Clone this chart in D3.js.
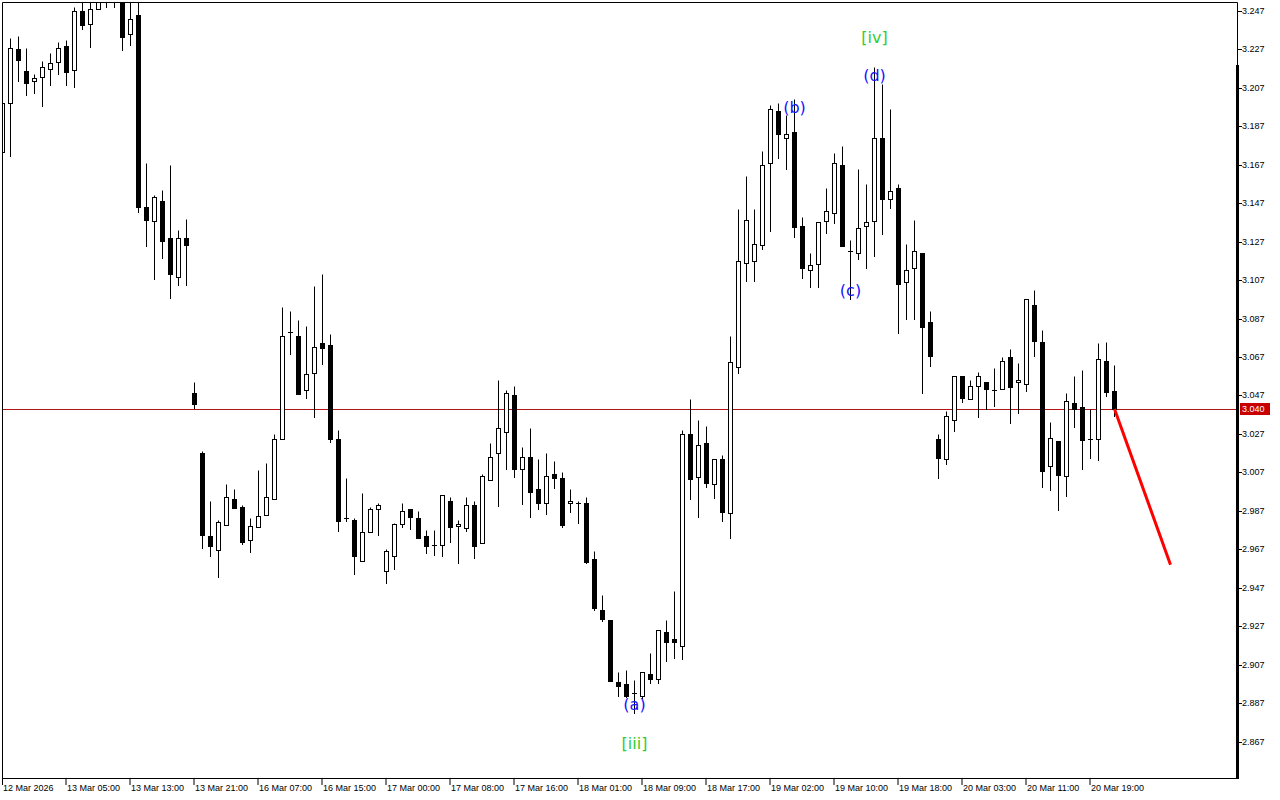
<!DOCTYPE html>
<html>
<head>
<meta charset="utf-8">
<script src="https://cdnjs.cloudflare.com/ajax/libs/d3/7.8.5/d3.min.js"></script>
<style>
  body { margin: 0; background: #fff; }
  svg { display: block; }
  .axis text { font-family: "Liberation Sans", Arial, sans-serif; font-size: 9px; fill: #000; }
</style>
</head>
<body>
<div class="chart"></div>
<script>
// H1 bars, oldest first (bar 0 = 12 Mar 2026, partly cut at the left edge)
var opens = [3.1736,3.1991,3.2272,3.2158,3.2106,3.2126,3.2168,3.2204,3.2288,3.2163,
  3.2470,3.2402,3.2480,3.2657,3.2568,3.2579,3.2350,3.2449,3.1450,3.1378,
  3.1482,3.1289,3.1086,3.1289,3.0483,3.0171,2.9740,2.9667,2.9797,2.9932,
  2.9890,2.9719,2.9786,2.9849,2.9932,3.0244,3.0800,3.0780,3.0499,3.0587,
  3.0743,3.0733,3.0244,2.9833,2.9823,2.9610,2.9760,2.9880,2.9558,2.9636,
  2.9802,2.9880,2.9833,2.9740,2.9693,2.9693,2.9922,2.9792,2.9781,2.9901,
  2.9703,3.0031,3.0171,3.0280,3.0473,3.0088,3.0150,2.9984,2.9911,3.0062,
  3.0041,2.9911,2.9911,2.9911,2.9620,2.9355,2.9303,2.8980,2.8970,2.8923,
  2.8908,2.9022,2.8996,2.9240,2.9204,2.9168,3.0270,3.0046,3.0223,3.0010,
  3.0140,2.9859,3.0618,3.1159,3.1170,3.1253,3.1679,3.1950,3.1809,3.1840,
  3.1352,3.1123,3.1154,3.1378,3.1419,3.1669,3.1222,3.1211,3.1352,3.1378,
  3.1809,3.1492,3.1549,3.1060,3.1133,3.1211,3.0852,3.0244,3.0140,3.0343,
  3.0572,3.0452,3.0520,3.0540,3.0499,3.0504,3.0670,3.0540,3.0530,3.0941,
  3.0748,3.0104,3.0234,3.0052,3.0431,3.0410,3.0244,3.0244,3.0650,3.0494];
var highs = [3.2028,3.2329,3.2340,3.2277,3.2142,3.2210,3.2251,3.2308,3.2319,3.2490,
  3.2542,3.2553,3.2631,3.2683,3.2672,3.2605,3.2553,3.2542,3.1679,3.1513,
  3.1539,3.1669,3.1331,3.1388,3.0540,3.0182,2.9922,2.9823,3.0010,2.9984,
  2.9901,2.9833,3.0083,3.0119,3.0270,3.0930,3.0910,3.0863,3.0832,3.1040,
  3.1102,3.0790,3.0291,3.0041,2.9833,2.9963,2.9890,2.9911,2.9672,2.9807,
  2.9911,2.9880,2.9870,2.9771,2.9771,2.9953,2.9942,2.9823,2.9942,2.9922,
  3.0062,3.0223,3.0551,3.0499,3.0520,3.0202,3.0301,3.0140,3.0171,3.0130,
  3.0072,2.9984,2.9922,2.9942,2.9662,2.9433,2.9303,2.9032,2.9043,2.8991,
  2.9032,2.9131,2.9251,2.9303,2.9454,3.0291,3.0452,3.0343,3.0312,3.0140,
  3.0161,3.0780,3.1440,3.1612,3.1440,3.1742,3.1981,3.1991,3.1929,3.2012,
  3.1398,3.1211,3.1372,3.1549,3.1731,3.1768,3.1279,3.1648,3.1570,3.2178,
  3.2090,3.1960,3.1570,3.1258,3.1383,3.1211,3.0910,3.0270,3.0390,3.0572,
  3.0572,3.0551,3.0592,3.0540,3.0613,3.0670,3.0712,3.0639,3.0972,3.1019,
  3.0811,3.0332,3.0234,3.0483,3.0572,3.0603,3.0400,3.0743,3.0748,3.0629];
var lows = [3.1705,3.1716,3.2106,3.2033,3.2043,3.1976,3.2085,3.2142,3.2085,3.2074,
  3.2376,3.2282,3.2480,3.2490,3.2490,3.2267,3.2293,3.1424,3.1248,3.1076,
  3.1185,3.0977,3.1045,3.1045,3.0405,2.9677,2.9636,2.9526,2.9797,2.9885,
  2.9698,2.9656,2.9786,2.9849,2.9932,3.0244,3.0686,3.0478,3.0457,3.0358,
  3.0634,3.0228,2.9766,2.9818,2.9542,2.9610,2.9760,2.9745,2.9495,2.9568,
  2.9786,2.9776,2.9729,2.9651,2.9641,2.9636,2.9708,2.9599,2.9766,2.9625,
  2.9703,3.0031,2.9896,3.0088,3.0046,2.9906,2.9838,2.9880,2.9854,2.9989,
  2.9786,2.9864,2.9807,2.9599,2.9355,2.9298,2.8986,2.8908,2.8902,2.8819,
  2.8897,2.8975,2.8975,2.9090,2.9105,2.9100,2.9932,2.9838,2.9994,2.9937,
  2.9818,2.9729,3.0587,3.1066,3.1066,3.1232,3.1326,3.1705,3.1648,3.1294,
  3.1081,3.1034,3.1034,3.1315,3.1367,3.1248,3.0972,3.1180,3.1133,3.1196,
  3.1310,3.1445,3.0795,3.0868,3.0868,3.0483,3.0624,3.0041,3.0114,3.0286,
  3.0436,3.0452,3.0358,3.0400,3.0416,3.0504,3.0327,3.0379,3.0494,3.0676,
  2.9994,2.9979,2.9875,2.9948,3.0306,3.0088,3.0145,3.0135,3.0468,3.0364];
var closes = [3.1991,3.2277,3.2215,3.2095,3.2121,3.2178,3.2199,3.2277,3.2152,3.2470,
  3.2397,3.2480,3.2605,3.2579,3.2631,3.2334,3.2428,3.1450,3.1383,3.1502,
  3.1274,3.1102,3.1289,3.1253,3.0426,2.9745,2.9688,2.9812,2.9942,2.9885,
  2.9708,2.9792,2.9844,2.9942,3.0244,3.0780,3.0800,3.0478,3.0582,3.0722,
  3.0717,3.0244,2.9818,2.9833,2.9636,2.9760,2.9880,2.9901,2.9662,2.9802,
  2.9870,2.9838,2.9729,2.9688,2.9693,2.9953,2.9786,2.9802,2.9901,2.9688,
  3.0052,3.0150,3.0301,3.0483,3.0088,3.0150,2.9968,2.9911,3.0052,3.0041,
  2.9797,2.9922,2.9911,2.9604,2.9365,2.9308,2.8986,2.8960,2.8908,2.8923,
  2.9032,2.8996,2.9251,2.9188,2.9188,3.0270,3.0036,3.0213,3.0015,3.0140,
  2.9864,3.0644,3.1170,3.1383,3.1258,3.1669,3.1960,3.1830,3.1830,3.1346,
  3.1133,3.1149,3.1372,3.1430,3.1679,3.1248,3.1222,3.1341,3.1372,3.1809,
  3.1492,3.1534,3.1050,3.1123,3.1222,3.0826,3.0676,3.0145,3.0364,3.0572,
  3.0457,3.0520,3.0572,3.0504,3.0499,3.0650,3.0514,3.0551,3.0972,3.0754,
  3.0078,3.0249,3.0057,3.0442,3.0400,3.0239,3.0244,3.0660,3.0488,3.0400];

// one time label every 8 bars, starting at bar 0
var timeLabels = ["12 Mar 2026","13 Mar 05:00","13 Mar 13:00","13 Mar 21:00","16 Mar 07:00",
  "16 Mar 15:00","17 Mar 00:00","17 Mar 08:00","17 Mar 16:00","18 Mar 01:00","18 Mar 09:00",
  "18 Mar 17:00","19 Mar 02:00","19 Mar 10:00","19 Mar 18:00","20 Mar 03:00","20 Mar 11:00",
  "20 Mar 19:00"];
var barsPerLabel = 8;

var priceTicks = [3.247,3.227,3.207,3.187,3.167,3.147,3.127,3.107,3.087,3.067,3.047,
  3.027,3.007,2.987,2.967,2.947,2.927,2.907,2.887,2.867];
var lastPrice = 3.040;

// wave labels: bar index, price, text, kind
var waveBars   = [79, 79, 99, 106, 109, 109];
var wavePrices = [2.8861, 2.8663, 3.1965, 3.1014, 3.2132, 3.2329];
var waveTexts  = ["(a)", "[iii]", "(b)", "(c)", "(d)", "[iv]"];
var waveKinds  = ["minor", "major", "minor", "minor", "minor", "major"];

// forecast arrow
var forecastBars = [139, 146];
var forecastPrices = [3.040, 2.959];

var svgWidth = 1280, svgHeight = 800;
var plot = { left: 2, top: 2, right: 1237, bottom: 778 };

var svg = d3.select(".chart").append("svg")
  .attr("width", svgWidth)
  .attr("height", svgHeight);

var x = d3.scaleLinear().domain([0, 154]).range([2.5, 2.5 + 8 * 154]);
var y = d3.scaleLinear().domain([2.867, 3.247]).range([741.7, 10.8]);

var bars = opens.map(function (o, i) {
  return { i: i, o: o, h: highs[i], l: lows[i], c: closes[i] };
});

svg.append("clipPath").attr("id", "plotClip")
  .append("rect")
  .attr("x", plot.left + 1).attr("y", plot.top + 1)
  .attr("width", plot.right - plot.left - 1)
  .attr("height", plot.bottom - plot.top - 1);

var chart = svg.append("g").attr("clip-path", "url(#plotClip)");

function py(v) { return Math.round(y(v)) + 0.5; }

// bid line
chart.append("line")
  .attr("x1", plot.left).attr("x2", plot.right)
  .attr("y1", py(lastPrice)).attr("y2", py(lastPrice))
  .attr("stroke", "#b01414").attr("stroke-width", 1);

// wicks
chart.selectAll(".wick").data(bars).enter().append("line")
  .attr("class", "wick")
  .attr("x1", d => x(d.i)).attr("x2", d => x(d.i))
  .attr("y1", d => py(d.h)).attr("y2", d => py(d.l) + 0.5)
  .attr("stroke", "#000").attr("stroke-width", 1);

// bodies
chart.selectAll(".body").data(bars.filter(d => py(d.o) !== py(d.c))).enter().append("rect")
  .attr("class", "body")
  .attr("x", d => x(d.i) - 2)
  .attr("width", 4)
  .attr("y", d => Math.min(py(d.o), py(d.c)))
  .attr("height", d => Math.abs(py(d.o) - py(d.c)))
  .attr("fill", d => d.c > d.o ? "#fff" : "#000")
  .attr("stroke", "#000").attr("stroke-width", 1);

// doji
chart.selectAll(".doji").data(bars.filter(d => py(d.o) === py(d.c))).enter().append("line")
  .attr("class", "doji")
  .attr("x1", d => x(d.i) - 2.5).attr("x2", d => x(d.i) + 2.5)
  .attr("y1", d => py(d.c)).attr("y2", d => py(d.c))
  .attr("stroke", "#000").attr("stroke-width", 1);

// forecast line
chart.append("path")
  .datum(forecastBars.map((b, i) => [b, forecastPrices[i]]))
  .attr("d", d3.line().x(d => x(d[0])).y(d => y(d[1])))
  .attr("fill", "none").attr("stroke", "#ff0000").attr("stroke-width", 3);

// wave labels
chart.selectAll(".wave").data(waveTexts).enter().append("text")
  .attr("class", "wave")
  .attr("x", (d, i) => x(waveBars[i]))
  .attr("y", (d, i) => y(wavePrices[i]))
  .attr("text-anchor", "middle")
  .attr("dominant-baseline", "central")
  .style("font-family", "'DejaVu Sans', sans-serif")
  .style("font-size", "16px")
  .attr("fill", (d, i) => waveKinds[i] === "major" ? "#33cc33" : "#1414ff")
  .text(d => d);

// frame
svg.append("path")
  .attr("d", `M${plot.left + 0.5},${plot.bottom + 0.5}V${plot.top + 0.5}H${plot.right + 0.5}V${plot.bottom + 0.5}H${plot.left + 0.5}`)
  .attr("fill", "none").attr("stroke", "#000").attr("stroke-width", 1);
svg.append("rect")
  .attr("x", plot.right - 1).attr("y", 65)
  .attr("width", 3).attr("height", plot.bottom - 65 + 1)
  .attr("fill", "#000");

// price axis
var yAxis = svg.append("g").attr("class", "axis");
yAxis.selectAll(".ytick").data(priceTicks).enter().append("line")
  .attr("x1", plot.right + 1).attr("x2", plot.right + 5)
  .attr("y1", d => py(d)).attr("y2", d => py(d))
  .attr("stroke", "#000");
yAxis.selectAll(".ylab").data(priceTicks).enter().append("text")
  .attr("x", plot.right + 5)
  .attr("y", d => py(d) - 0.5)
  .attr("dominant-baseline", "central")
  .text(d => d.toFixed(3));

yAxis.append("rect")
  .attr("x", 1240).attr("y", py(lastPrice) - 6.5)
  .attr("width", 30).attr("height", 12)
  .attr("fill", "#c80000");
yAxis.append("text")
  .attr("x", 1242).attr("y", py(lastPrice) - 0.5)
  .attr("dominant-baseline", "central")
  .style("fill", "#fff")
  .text(lastPrice.toFixed(3));

// time axis
var xAxis = svg.append("g").attr("class", "axis");
xAxis.selectAll(".xtick").data(timeLabels).enter().append("line")
  .attr("x1", (d, i) => Math.max(plot.left + 0.5, x(i * barsPerLabel) - 0.5))
  .attr("x2", (d, i) => Math.max(plot.left + 0.5, x(i * barsPerLabel) - 0.5))
  .attr("y1", plot.bottom).attr("y2", plot.bottom + 7)
  .attr("stroke", "#000");
xAxis.selectAll(".xlab").data(timeLabels).enter().append("text")
  .attr("x", (d, i) => Math.max(plot.left, x(i * barsPerLabel)) + 0.5)
  .attr("y", plot.bottom + 10)
  .attr("dominant-baseline", "central")
  .text(d => d);
</script>
</body>
</html>
